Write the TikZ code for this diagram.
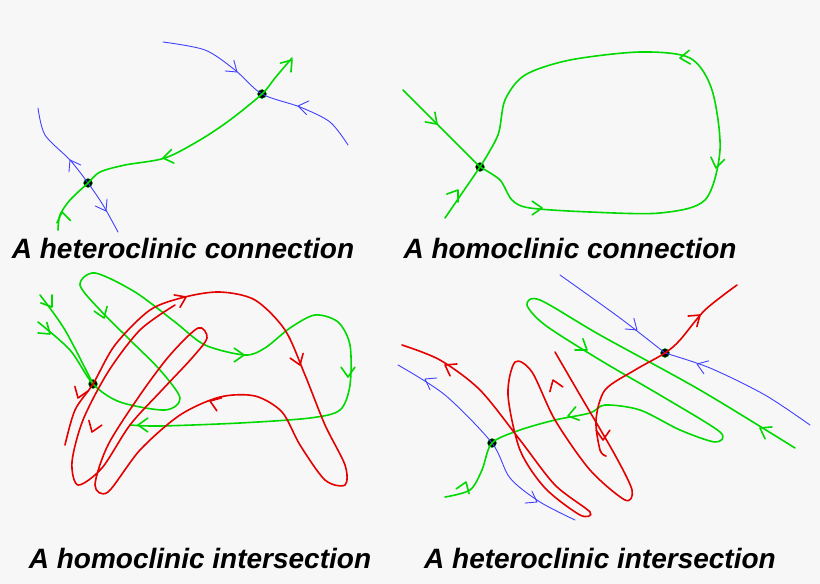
\documentclass[tikz,border=0pt]{standalone}
\usepackage{fontspec}
\setmainfont{Liberation Sans}
\begin{document}
\begin{tikzpicture}[x=1pt,y=-1pt,
  gr/.style={draw=green!85!black,line width=1.6pt,line cap=round,line join=round},
  rd/.style={draw=red!90!black,line width=1.6pt,line cap=round,line join=round},
  bl/.style={draw=blue!75,line width=0.9pt,line cap=round,line join=round},
  lab/.style={font=\bfseries\itshape\fontsize{28}{32}\selectfont},
  sad/.style={circle,fill=black,draw=green!70!black,inner sep=0pt,minimum size=9pt}]
\newcommand\chev[4]{\draw[#1] (#2,#3) ++(#4+145:12) -- (#2,#3) -- ++(#4-145:12);}
\fill[black!3] (0,0) rectangle (820,584);
\useasboundingbox (0,0) rectangle (820,584);
% ---------- panel 1
\node[sad] (s1) at (262,94) {};
\node[sad] (s2) at (88,183) {};
\draw[bl] plot[smooth] coordinates {(163,42) (205,50) (235,70) (262,94) (300,107) (330,122) (348,145)};
\draw[bl] plot[smooth] coordinates {(38,108) (45,135) (70,160) (88,183) (103,205) (118,232)};
\draw[gr] plot[smooth] coordinates {(292,58) (275,78) (262,94) (230,120) (200,140) (165,158) (125,165) (100,172) (88,183) (70,200) (60,215) (58,230)};
\chev{bl}{237}{72}{40}\chev{bl}{298}{106}{190}
\chev{bl}{70}{160}{-120}\chev{bl}{106}{211}{60}
\chev{gr}{292}{60}{-50}\chev{gr}{163}{158}{170}\chev{gr}{62}{212}{-100}
% ---------- panel 2
\node[sad] (s3) at (480,167) {};
\draw[gr] (403,90) -- (s3.center) -- (445,218);
\draw[gr] plot[smooth] coordinates {(480,167) (498,135) (505,100) (525,75) (570,60) (640,52) (690,58) (712,90) (720,150) (705,200) (660,213) (590,212) (530,208) (512,200) (500,180) (480,167)};
\chev{gr}{437}{124}{45}\chev{gr}{458}{190}{-55}\chev{gr}{680}{58}{175}\chev{gr}{716}{168}{100}\chev{gr}{542}{208}{0}
% ---------- panel 3
\node[sad] (s4) at (93,384) {};
\draw[gr] plot[smooth] coordinates {(40,295) (65,330) (93,384)};
\draw[gr] plot[smooth] coordinates {(38,322) (70,350) (93,384) (120,402) (165,410) (180,398) (160,370) (130,340) (100,310) (80,285) (95,273) (135,292) (175,322) (205,345) (245,355) (265,348) (290,328) (315,315) (338,322) (350,345) (350,385) (340,410) (310,418) (240,423) (160,426) (130,425)};
\chev{gr}{52}{307}{55}\chev{gr}{50}{334}{40}\chev{gr}{104}{318}{70}\chev{gr}{244}{355}{0}\chev{gr}{348}{377}{90}\chev{gr}{138}{425}{180}
\draw[rd] plot[smooth] coordinates {(65,445) (75,410) (93,384) (115,345) (150,310) (185,297) (220,292) (255,300) (285,330) (305,375) (325,425) (345,465) (345,485) (325,480) (300,445) (282,412) (255,396) (220,397) (180,415) (140,450) (108,492) (95,485) (108,445) (140,395) (170,355) (198,328) (207,338) (192,358) (162,390) (130,425) (102,468) (78,485) (72,462) (83,420) (108,372) (140,330) (175,305)};
\chev{rd}{186}{297}{-25}\chev{rd}{300}{365}{70}\chev{rd}{210}{401}{200}\chev{rd}{78}{398}{110}\chev{rd}{92}{432}{110}
% ---------- panel 4
\node[sad] (s5) at (665,353) {};
\node[sad] (s6) at (492,443) {};
\draw[bl] plot[smooth] coordinates {(560,275) (620,318) (665,353)};
\draw[bl] plot[smooth] coordinates {(665,353) (710,368) (765,395) (810,425)};
\draw[bl] plot[smooth] coordinates {(398,365) (445,395) (492,443) (510,478) (540,502) (575,520)};
\draw[gr] plot[smooth] coordinates {(795,448) (700,390) (600,335) (540,300) (527,305) (545,325) (600,360) (665,398) (720,432) (715,442) (680,430) (640,410) (605,405) (590,413) (555,420) (520,430) (492,443) (482,470) (470,490) (445,497)};
\chev{bl}{637}{330}{40}\chev{bl}{697}{364}{200}\chev{bl}{425}{379}{210}\chev{bl}{537}{502}{30}
\chev{gr}{760}{428}{210}\chev{gr}{587}{350}{35}\chev{gr}{568}{416}{165}\chev{gr}{466}{482}{-70}
\draw[rd] plot[smooth] coordinates {(737,285) (705,310) (680,340) (665,353) (635,370) (605,390) (596,420) (600,450) (606,456)};
\draw[rd] plot[smooth] coordinates {(402,345) (440,360) (480,390) (520,440) (555,485) (590,512) (580,515) (545,488) (520,450) (508,395) (515,362) (532,372) (555,420) (590,470) (625,500) (632,490) (615,455) (580,395) (555,352)};
\chev{rd}{700}{315}{-40}\chev{rd}{603}{440}{90}\chev{rd}{445}{365}{210}\chev{rd}{553}{380}{-110}
% labels
\node[lab] (t1) at (183,248) {A heteroclinic connection};
\node[lab] (t2) at (570,248) {A homoclinic connection};
\node[lab] (t3) at (200,558) {A homoclinic intersection};
\node[lab] (t4) at (600,558) {A heteroclinic intersection};
\end{tikzpicture}
\end{document}
